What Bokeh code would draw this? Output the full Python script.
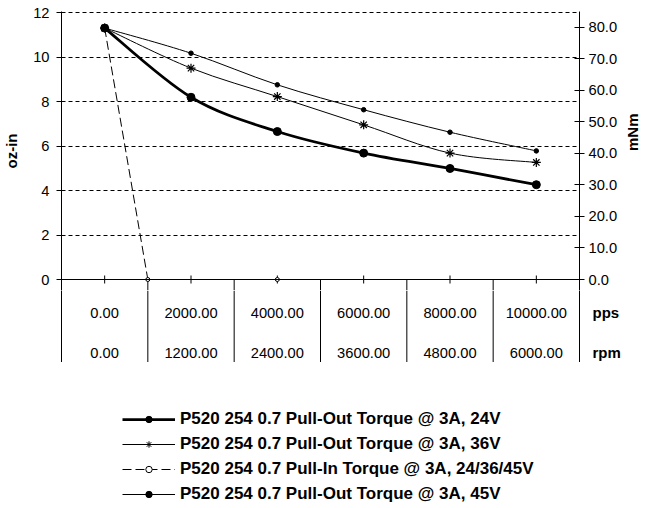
import math
import numpy as np
from bokeh.plotting import figure
from bokeh.layouts import column
from bokeh.models import (Range1d, LinearAxis, FixedTicker, PrintfTickFormatter,
                          Span, Legend, LegendItem, ColumnDataSource)
from bokeh.embed import file_html
from bokeh.resources import INLINE
from bokeh.core.properties import value

# ---------------- data ----------------
pps = [0, 2000, 4000, 6000, 8000, 10000]
rpm = [0, 1200, 2400, 3600, 4800, 6000]
pull_out_24v = [11.3, 8.19, 6.65, 5.68, 4.99, 4.26]
pull_out_36v = [11.3, 9.50, 8.22, 6.95, 5.68, 5.26]
pull_out_45v = [11.3, 10.17, 8.75, 7.63, 6.62, 5.78]
pull_in_pps = [0, 1000, 4000]
pull_in_24_36_45v = [11.3, 0.0, 0.0]
oz_in_ticks = [0, 2, 4, 6, 8, 10, 12]
mnm_ticks = [0, 10, 20, 30, 40, 50, 60, 70, 80]
MNM_PER_OZIN = 7.0615518

labels = ["P520 254 0.7 Pull-Out Torque @ 3A, 24V",
          "P520 254 0.7 Pull-Out Torque @ 3A, 36V",
          "P520 254 0.7 Pull-In Torque @ 3A, 24/36/45V",
          "P520 254 0.7 Pull-Out Torque @ 3A, 45V"]

# ---------------- layout constants ----------------
FONT = "Liberation Sans"
W, H = 652, 508
LEFT, RIGHT = 59, 71                 # borders around the plotting frame
PX = 22.25                           # pixels per oz-in
Y_MAX = 12 + 1 / PX
Y_MIN = -11 / PX
CHART_TOP = 11
CHART_H = CHART_TOP + int(round((Y_MAX - Y_MIN) * PX))   # 290
TABLE_H = 362 - CHART_H                                  # table: 290 .. 362
LEGEND_H = H - CHART_H - TABLE_H                         # legend: 362 .. 508
ROW1, ROW2 = -22, -62                # table text rows, pixels below table top
step = pps[1] - pps[0]
x0, x1 = pps[0] - step / 2, pps[-1] + step / 2


def base_fig(height, y_range, top=0, x_loc=None, y_loc=None):
    f = figure(width=W, height=height, output_backend="svg", toolbar_location=None,
               x_range=Range1d(x0, x1), y_range=y_range,
               x_axis_location=x_loc, y_axis_location=y_loc,
               min_border_left=LEFT, min_border_right=RIGHT,
               min_border_top=top, min_border_bottom=0, title=None)
    f.outline_line_color = None
    f.xgrid.visible = False
    return f


# ================= chart =================
p = base_fig(CHART_H, Range1d(Y_MIN, Y_MAX), top=CHART_TOP, y_loc="left")

ya = p.yaxis[0]
ya.ticker = FixedTicker(ticks=oz_in_ticks)
ya.minor_tick_line_color = None
ya.major_tick_in = 0
ya.major_tick_out = 5
ya.major_label_standoff = 7
ya.axis_line_color = "black"
ya.major_tick_line_color = "black"
ya.major_label_text_font = FONT
ya.major_label_text_font_size = "14.7px"
ya.major_label_text_color = "black"
ya.axis_label = "oz-in"
ya.axis_label_text_font = FONT
ya.axis_label_text_font_size = "15px"
ya.axis_label_text_font_style = "bold"
ya.axis_label_text_color = "black"
ya.axis_label_standoff = 10

p.ygrid.ticker = FixedTicker(ticks=oz_in_ticks[1:])
p.ygrid.grid_line_color = "black"
p.ygrid.grid_line_dash = "4 3"
p.ygrid.grid_line_width = 1

p.extra_y_ranges = {"mnm": Range1d(Y_MIN * MNM_PER_OZIN, Y_MAX * MNM_PER_OZIN)}
ra = LinearAxis(y_range_name="mnm", ticker=FixedTicker(ticks=mnm_ticks),
                formatter=PrintfTickFormatter(format="%.1f"))
ra.minor_tick_line_color = None
ra.major_tick_in = 5
ra.major_tick_out = 5
ra.major_label_standoff = 4
ra.axis_line_color = "black"
ra.major_label_text_font = FONT
ra.major_label_text_font_size = "14.7px"
ra.major_label_text_color = "black"
ra.axis_label = "mNm"
ra.axis_label_text_font = FONT
ra.axis_label_text_font_size = "15px"
ra.axis_label_text_font_style = "bold"
ra.axis_label_text_color = "black"
ra.axis_label_text_line_height = 1.0
ra.axis_label_standoff = 12
try:
    ra.axis_label_orientation = math.pi / 2
except Exception:
    pass
p.add_layout(ra, "right")

p.add_layout(Span(location=0, dimension="width", line_color="black", line_width=1))
tick = 4 / PX
p.segment(x0=pps, y0=[-tick] * len(pps), x1=pps, y1=[tick] * len(pps),
          line_color="black", line_width=1)
bounds = [(a + b) / 2 for a, b in zip(pps[:-1], pps[1:])]
p.segment(x0=bounds, y0=[0] * len(bounds), x1=bounds, y1=[Y_MIN] * len(bounds),
          line_color="black", line_width=1)


def bezier_source(xs, ys):
    P = np.column_stack([xs, ys]).astype(float)
    n = len(P)
    ext = np.vstack([P[0], P, P[-1]])
    c0 = P[:-1] + (ext[2:n + 1] - ext[0:n - 1]) / 6.0
    c1 = P[1:] - (ext[3:n + 2] - ext[1:n]) / 6.0
    return ColumnDataSource(dict(x0=P[:-1, 0], y0=P[:-1, 1], x1=P[1:, 0], y1=P[1:, 1],
                                 cx0=c0[:, 0], cy0=c0[:, 1], cx1=c1[:, 0], cy1=c1[:, 1]))


def curve(ys, width):
    return p.bezier(x0="x0", y0="y0", x1="x1", y1="y1", cx0="cx0", cy0="cy0",
                    cx1="cx1", cy1="cy1", source=bezier_source(pps, ys),
                    line_color="black", line_width=width)


# styles of the four series
S24 = dict(line_width=2.75, marker="circle", size=8, fill="black", dash="solid")
S36 = dict(line_width=1, marker="asterisk", size=9, fill="black", dash="solid")
SIN = dict(line_width=1, marker="circle", size=4, fill="white", dash="9 4")
S45 = dict(line_width=1, marker="circle", size=4.5, fill="black", dash="solid")

curve(pull_out_45v, S45["line_width"])
p.scatter(pps, pull_out_45v, marker=S45["marker"], size=S45["size"],
          fill_color=S45["fill"], line_color="black")
curve(pull_out_36v, S36["line_width"])
p.scatter(pps, pull_out_36v, marker=S36["marker"], size=S36["size"],
          line_color="black", line_width=1.2)
p.line(pull_in_pps, pull_in_24_36_45v, line_color="black", line_width=SIN["line_width"],
       line_dash=SIN["dash"])
p.scatter(pull_in_pps, pull_in_24_36_45v, marker=SIN["marker"], size=SIN["size"],
          fill_color=SIN["fill"], line_color="black")
curve(pull_out_24v, S24["line_width"])
p.scatter(pps, pull_out_24v, marker=S24["marker"], size=S24["size"],
          fill_color=S24["fill"], line_color="black")

# ================= data table =================
t = base_fig(TABLE_H, Range1d(-TABLE_H, 0), y_loc="left")
t.grid.visible = False
tl = t.yaxis[0]
tl.ticker = FixedTicker(ticks=[])
tl.minor_tick_line_color = None
tl.axis_line_color = "black"
tr = LinearAxis(ticker=FixedTicker(ticks=[ROW1, ROW2]),
                major_label_overrides={ROW1: "pps", ROW2: "rpm"})
tr.major_tick_in = 0
tr.major_tick_out = 0
tr.minor_tick_line_color = None
tr.major_label_standoff = 13
tr.axis_line_color = "black"
tr.major_label_text_font = FONT
tr.major_label_text_font_size = "15px"
tr.major_label_text_font_style = "bold"
tr.major_label_text_color = "black"
t.add_layout(tr, "right")

t.segment(x0=bounds, y0=[0] * len(bounds), x1=bounds, y1=[-TABLE_H] * len(bounds),
          line_color="black", line_width=1)
t.text(x=pps, y=[ROW1] * len(pps), text=[f"{v:.2f}" for v in pps],
       text_align="center", text_baseline="middle", text_font=value(FONT),
       text_font_size="14.7px", text_color="black")
t.text(x=pps, y=[ROW2] * len(rpm), text=[f"{v:.2f}" for v in rpm],
       text_align="center", text_baseline="middle", text_font=value(FONT),
       text_font_size="14.7px", text_color="black")

# ================= legend =================
# the legend figure shows no data area: its y-range lies below all torque values,
# so the series drawn here only supply the legend's line and marker styles
g = base_fig(LEGEND_H, Range1d(-2, -1))
g.grid.visible = False


def legend_renderers(xs, ys, st):
    ln = g.line(xs, ys, line_color="black", line_width=st["line_width"],
                line_dash=st["dash"])
    mk = g.scatter(xs, ys, marker=st["marker"], size=st["size"],
                   fill_color=st["fill"], line_color="black")
    return [ln, mk]


legend = Legend(items=[
    LegendItem(label=labels[0], renderers=legend_renderers(pps, pull_out_24v, S24)),
    LegendItem(label=labels[1], renderers=legend_renderers(pps, pull_out_36v, S36)),
    LegendItem(label=labels[2], renderers=legend_renderers(pull_in_pps, pull_in_24_36_45v, SIN)),
    LegendItem(label=labels[3], renderers=legend_renderers(pps, pull_out_45v, S45))],
    location=(61, 4), orientation="vertical",
    padding=0, margin=0, spacing=5, glyph_width=53, glyph_height=16,
    label_height=20, label_standoff=5,
    label_text_font=FONT, label_text_font_size="17px",
    label_text_font_style="bold", label_text_color="black",
    border_line_color=None, background_fill_alpha=0)
g.add_layout(legend, "center")

open("out.html", "w").write(file_html(column(p, t, g, spacing=0), INLINE))
